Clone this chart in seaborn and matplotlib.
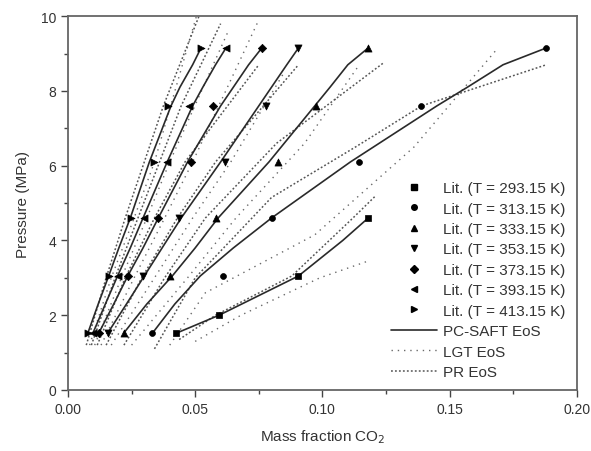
import matplotlib
matplotlib.use("Agg")
import matplotlib.pyplot as plt
from matplotlib.lines import Line2D
import seaborn as sns
import pandas as pd

# ---- experimental data (literature) ----
temps = ["293.15", "313.15", "333.15", "353.15", "373.15", "393.15", "413.15"]
markers = ["s", "o", "^", "v", "D", "<", ">"]

p_293 = [1.52, 2.0, 3.05, 4.6]
w_293 = [0.0426, 0.0594, 0.0906, 0.118]
p_std = [1.52, 3.05, 4.6, 6.1, 7.6, 9.15]
w_313 = [0.0332, 0.061, 0.080, 0.1145, 0.1387, 0.188]
w_333 = [0.0219, 0.040, 0.0582, 0.0824, 0.0973, 0.118]
w_353 = [0.0156, 0.0293, 0.0438, 0.0617, 0.0777, 0.0906]
w_373 = [0.0121, 0.0234, 0.0352, 0.0484, 0.057, 0.0762]
w_393 = [0.0098, 0.0195, 0.0297, 0.039, 0.0477, 0.0621]
w_413 = [0.0078, 0.016, 0.0246, 0.034, 0.0395, 0.0523]

# ---- PC-SAFT EoS (solid) ----
saft_p_293 = [1.52, 2.0, 3.05, 4.0, 4.6]
saft_w_293 = [0.0426, 0.0594, 0.0906, 0.108, 0.118]
saft_p = [1.52, 2.3, 3.05, 3.8, 4.6, 6.1, 7.6, 8.1, 8.7, 9.15]
saft_w_313 = [0.0332, 0.042, 0.052, 0.065, 0.080, 0.111, 0.145, 0.157, 0.171, 0.188]
saft_w_333 = [0.0219, 0.031, 0.041, 0.050, 0.059, 0.079, 0.097, 0.103, 0.110, 0.118]
saft_w_353 = [0.0156, 0.023, 0.030, 0.037, 0.0445, 0.060, 0.075, 0.080, 0.086, 0.0906]
saft_w_373 = [0.0121, 0.018, 0.0235, 0.0295, 0.0355, 0.047, 0.060, 0.065, 0.071, 0.0762]
saft_w_393 = [0.0098, 0.0147, 0.0195, 0.0245, 0.0295, 0.039, 0.049, 0.053, 0.058, 0.0621]
saft_w_413 = [0.0078, 0.0119, 0.0160, 0.020, 0.0245, 0.032, 0.0405, 0.044, 0.049, 0.0523]

# ---- PR EoS (densely dotted) ----
pr_p_293 = [1.35, 2.0, 3.05, 4.6, 5.2]
pr_w_293 = [0.0437, 0.058, 0.088, 0.112, 0.121]
pr_p_313 = [1.1, 3.0, 5.15, 6.5, 7.6, 8.7]
pr_w_313 = [0.034, 0.050, 0.080, 0.113, 0.139, 0.188]
pr_p_333 = [1.2, 3.0, 4.6, 6.6, 8.75]
pr_w_333 = [0.022, 0.038, 0.054, 0.082, 0.124]
pr_p_353 = [1.2, 3.0, 4.6, 6.1, 8.7]
pr_w_353 = [0.015, 0.029, 0.043, 0.058, 0.0906]
pr_p_373 = [1.2, 3.0, 4.6, 6.1, 8.7]
pr_w_373 = [0.0115, 0.0225, 0.034, 0.046, 0.075]
pr_p_393 = [1.2, 3.0, 4.6, 6.1, 7.6, 9.8]
pr_w_393 = [0.0092, 0.0185, 0.0275, 0.036, 0.0445, 0.060]
pr_p_413 = [1.2, 3.0, 4.6, 6.1, 7.6, 10.0]
pr_w_413 = [0.0072, 0.0150, 0.0225, 0.030, 0.0375, 0.0515]

# ---- LGT EoS (sparse dotted) ----
lgt_p_293 = [1.3, 2.0, 3.0, 3.45]
lgt_w_293 = [0.050, 0.068, 0.099, 0.118]
lgt_p_313 = [1.2, 2.6, 4.15, 6.5, 9.15]
lgt_w_313 = [0.040, 0.054, 0.097, 0.136, 0.169]
lgt_p_333 = [1.2, 3.0, 4.6, 6.6, 8.65]
lgt_w_333 = [0.025, 0.047, 0.066, 0.093, 0.114]
lgt_p_353 = [1.2, 3.0, 4.6, 6.1, 8.5]
lgt_w_353 = [0.017, 0.034, 0.049, 0.064, 0.085]
lgt_p_373 = [1.2, 3.0, 4.6, 6.1, 9.9]
lgt_w_373 = [0.013, 0.026, 0.038, 0.049, 0.075]
lgt_p_393 = [1.2, 3.0, 4.6, 6.1, 9.6]
lgt_w_393 = [0.0105, 0.021, 0.031, 0.040, 0.063]
lgt_p_413 = [1.2, 3.0, 4.6, 6.1, 10.0]
lgt_w_413 = [0.0085, 0.017, 0.026, 0.034, 0.0505]

exp_sets = [(w_293, p_293), (w_313, p_std), (w_333, p_std), (w_353, p_std),
            (w_373, p_std), (w_393, p_std), (w_413, p_std)]
saft_sets = [(saft_w_293, saft_p_293), (saft_w_313, saft_p), (saft_w_333, saft_p),
             (saft_w_353, saft_p), (saft_w_373, saft_p), (saft_w_393, saft_p),
             (saft_w_413, saft_p)]
pr_sets = [(pr_w_293, pr_p_293), (pr_w_313, pr_p_313), (pr_w_333, pr_p_333),
           (pr_w_353, pr_p_353), (pr_w_373, pr_p_373), (pr_w_393, pr_p_393),
           (pr_w_413, pr_p_413)]
lgt_sets = [(lgt_w_293, lgt_p_293), (lgt_w_313, lgt_p_313), (lgt_w_333, lgt_p_333),
            (lgt_w_353, lgt_p_353), (lgt_w_373, lgt_p_373), (lgt_w_393, lgt_p_393),
            (lgt_w_413, lgt_p_413)]

sns.set_style("ticks")
plt.rcParams['font.family'] = ['Liberation Sans', 'DejaVu Sans']

fig = plt.figure(figsize=(5.91, 4.52), dpi=100)
ax = fig.add_axes([0.115, 0.135, 0.861, 0.827])

solid_c = "#2a2a2a"
pr_c = "#555555"
lgt_c = "#6a6a6a"
lgt_ls = (0, (1, 3.5))
pr_ls = (0, (1.2, 1.4))

for (w, p) in lgt_sets:
    df = pd.DataFrame({"w": w, "p": p})
    sns.lineplot(data=df, x="w", y="p", ax=ax, color=lgt_c, lw=1.0,
                 linestyle=lgt_ls, sort=False, estimator=None)
for (w, p) in pr_sets:
    df = pd.DataFrame({"w": w, "p": p})
    sns.lineplot(data=df, x="w", y="p", ax=ax, color=pr_c, lw=1.1,
                 linestyle=pr_ls, sort=False, estimator=None)
for (w, p) in saft_sets:
    df = pd.DataFrame({"w": w, "p": p})
    sns.lineplot(data=df, x="w", y="p", ax=ax, color=solid_c, lw=1.2,
                 linestyle="-", sort=False, estimator=None)
for (w, p), m in zip(exp_sets, markers):
    df = pd.DataFrame({"w": w, "p": p})
    ms = 18 if m in ("s", "o", "D") else 26
    sns.scatterplot(data=df, x="w", y="p", ax=ax, marker=m, s=ms,
                    color="black", edgecolor="black", linewidth=0.5, zorder=5)

ax.set_xlim(0, 0.2)
ax.set_ylim(0, 10)
ax.set_xticks([0, 0.05, 0.10, 0.15, 0.20])
ax.set_xticklabels(["0.00", "0.05", "0.10", "0.15", "0.20"])
ax.set_xticks([0.025, 0.075, 0.125, 0.175], minor=True)
ax.set_yticks([0, 2, 4, 6, 8, 10])
ax.set_yticks([1, 3, 5, 7, 9], minor=True)
ax.tick_params(axis="both", which="major", direction="out", length=5, width=1.0,
               labelsize=10, colors="#444444", labelcolor="#333333")
ax.tick_params(axis="both", which="minor", direction="out", length=3, width=1.0,
               colors="#444444")
for s in ax.spines.values():
    s.set_color("#666666")
    s.set_linewidth(1.3)
ax.set_xlabel("Mass fraction CO$_2$", fontsize=11, color="#333333", labelpad=8)
ax.set_ylabel("Pressure (MPa)", fontsize=11, color="#333333", labelpad=8)

handles = []
for t, m in zip(temps, markers):
    handles.append(Line2D([], [], marker=m, linestyle="none", color="black",
                          markersize=4.0, label=f"Lit. (T = {t} K)"))
handles.append(Line2D([], [], color=solid_c, lw=1.2, label="PC-SAFT EoS"))
handles.append(Line2D([], [], color=lgt_c, lw=1.0, linestyle=lgt_ls,
                      label="LGT EoS"))
handles.append(Line2D([], [], color=pr_c, lw=1.1, linestyle=pr_ls,
                      label="PR EoS"))
leg = ax.legend(handles=handles, loc="lower right", bbox_to_anchor=(0.995, 0.005),
                frameon=False, fontsize=11, handlelength=3.0, handletextpad=0.4,
                labelspacing=0.42, borderaxespad=0.2)
for txt in leg.get_texts():
    txt.set_color("#333333")

fig.savefig("out.png", dpi=100)
